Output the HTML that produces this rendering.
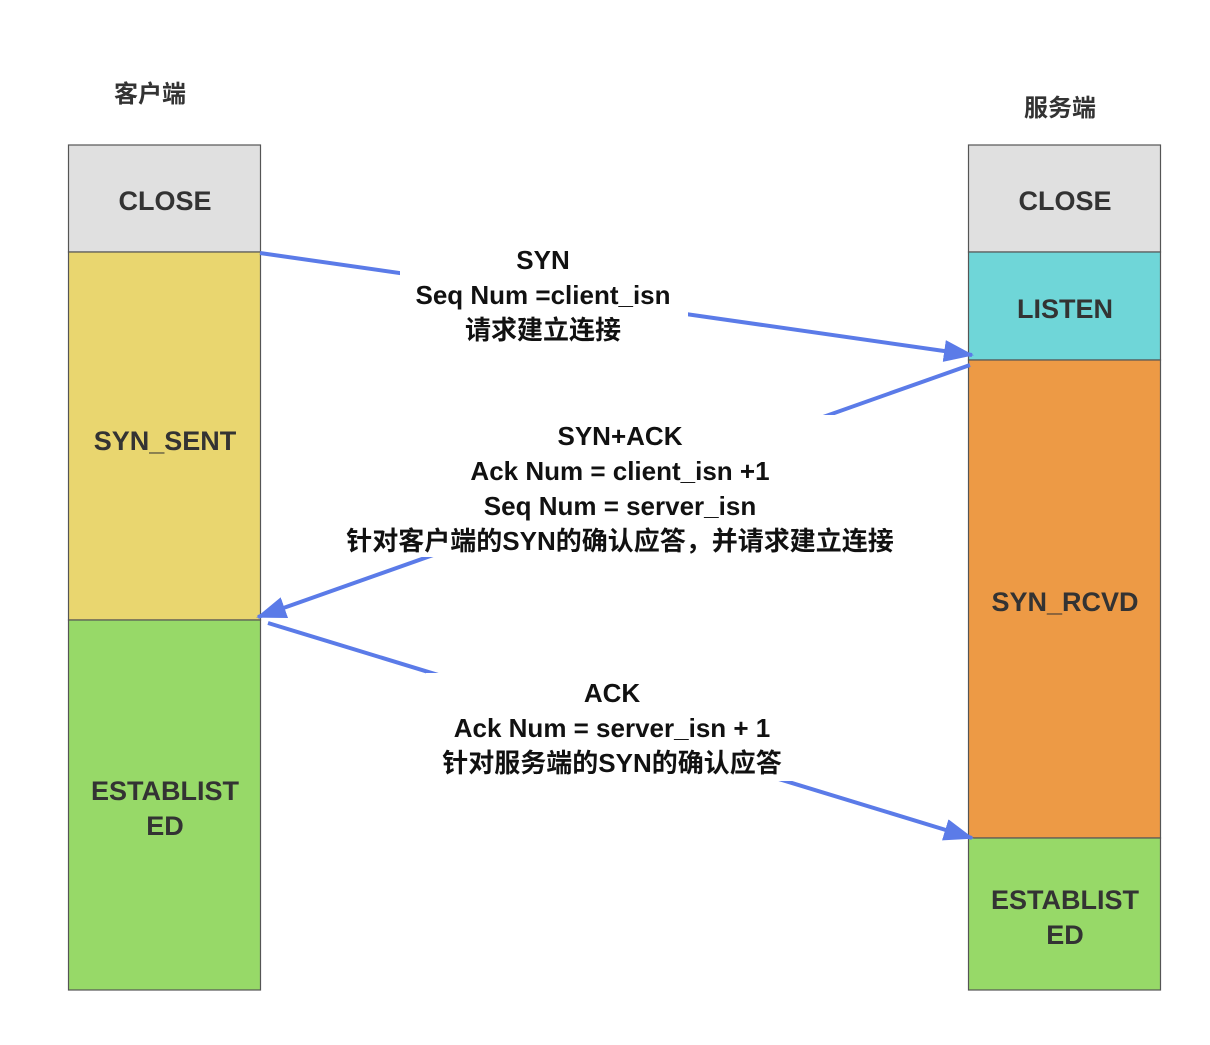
<!DOCTYPE html>
<html><head><meta charset="utf-8"><style>
body{margin:0;background:#fff}
text{font-family:"Liberation Sans","Noto Sans CJK SC",sans-serif;font-weight:bold}
</style></head><body>
<svg width="1210" height="1040" xmlns="http://www.w3.org/2000/svg">
<defs><marker id="a" markerWidth="10" markerHeight="8" refX="9" refY="4" orient="auto" markerUnits="userSpaceOnUse" viewBox="0 0 10 8"><path d="M0,0L10,4L0,8z" fill="#5b7be8"/></marker>
<marker id="b" markerWidth="30" markerHeight="22" refX="28" refY="11" orient="auto" markerUnits="userSpaceOnUse"><path d="M0,0L30,11L0,22z" fill="#5b7be8"/></marker></defs>
<g stroke="#555" stroke-width="1.2">
<rect x="68.5" y="145" width="192" height="107" fill="#e0e0e0"/>
<rect x="68.5" y="252" width="192" height="368" fill="#e9d66f"/>
<rect x="68.5" y="620" width="192" height="370" fill="#97d968"/>
<rect x="968.5" y="145" width="192" height="107" fill="#e0e0e0"/>
<rect x="968.5" y="252" width="192" height="108" fill="#6fd6d8"/>
<rect x="968.5" y="360" width="192" height="478" fill="#ed9a45"/>
<rect x="968.5" y="838" width="192" height="152" fill="#97d968"/>
</g>
<g fill="#333" font-size="27" text-anchor="middle">
<text x="165" y="210">CLOSE</text>
<text x="165" y="450">SYN_SENT</text>
<text x="165" y="800">ESTABLIST</text>
<text x="165" y="835">ED</text>
<text x="1065" y="210">CLOSE</text>
<text x="1065" y="318">LISTEN</text>
<text x="1065" y="611">SYN_RCVD</text>
<text x="1065" y="909">ESTABLIST</text>
<text x="1065" y="944">ED</text>
<text x="150" y="102" font-size="24">客户端</text>
<text x="1060" y="116" font-size="24">服务端</text>
</g>
<g stroke="#5b7be8" stroke-width="4" fill="none">
<line x1="260" y1="253" x2="972" y2="355" marker-end="url(#b)"/>
<line x1="970" y1="365" x2="258" y2="617" marker-end="url(#b)"/>
<line x1="268" y1="623" x2="972" y2="838" marker-end="url(#b)"/>
</g>
<g fill="#fff">
<rect x="400" y="240" width="288" height="105"/>
<rect x="322" y="415" width="596" height="142"/>
<rect x="426" y="673" width="372" height="108"/>
</g>
<g fill="#111" font-size="26" text-anchor="middle">
<text x="543" y="269">SYN</text>
<text x="543" y="304">Seq Num =client_isn</text>
<text x="543" y="339">请求建立连接</text>
<text x="620" y="445">SYN+ACK</text>
<text x="620" y="480">Ack Num = client_isn +1</text>
<text x="620" y="515">Seq Num = server_isn</text>
<text x="620" y="550">针对客户端的SYN的确认应答，并请求建立连接</text>
<text x="612" y="702">ACK</text>
<text x="612" y="737">Ack Num = server_isn + 1</text>
<text x="612" y="772">针对服务端的SYN的确认应答</text>
</g>
</svg>
</body></html>
